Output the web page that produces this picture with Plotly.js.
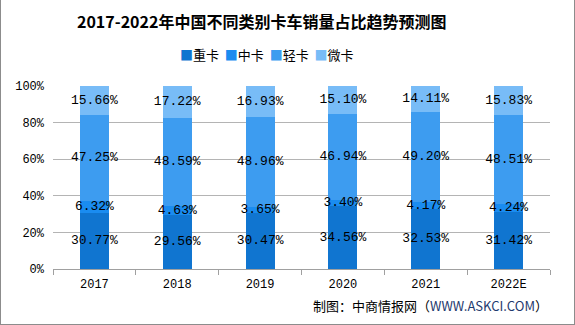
<!DOCTYPE html>
<html><head><meta charset="utf-8">
<script src="https://cdn.plot.ly/plotly-3.0.1.min.js"></script>
<style>html,body{margin:0;padding:0;background:#fff}#c{width:575px;height:325px;box-sizing:border-box;border:1px solid #8c8c8c;border-top:none}</style>
</head><body><div id="c"></div>
<script>
const years = ["2017","2018","2019","2020","2021","2022E"];
const heavy = [30.77,29.56,30.47,34.56,32.53,31.42];
const medium = [6.32,4.63,3.65,3.40,4.17,4.24];
const light = [47.25,48.59,48.96,46.94,49.20,48.51];
const micro = [15.66,17.22,16.93,15.10,14.11,15.83];
const names = ["重卡","中卡","轻卡","微卡"];
const colors = ["#1075d0","#1a8cf0","#3d9cf0","#78bcf7"];
const series = [heavy, medium, light, micro];
const mono = "'Liberation Mono', 'DejaVu Sans Mono', monospace";
const cjk = "'Noto Sans CJK SC', sans-serif";
const traces = series.map((s,i)=>({
  type:'bar', x:years, y:s, name:names[i],
  marker:{color:colors[i]}, hoverinfo:'none', showlegend:false
}));
// data labels at segment midpoints
const base = years.map(()=>0);
const lx=[], ly=[], lt=[];
series.forEach(s=>{
  s.forEach((v,j)=>{ lx.push(years[j]); ly.push(base[j]+v/2); lt.push(v.toFixed(2)+'%'); base[j]+=v; });
});
traces.push({type:'scatter', mode:'text', x:lx, y:ly, text:lt, textposition:'middle center',
  textfont:{family:mono,size:13,color:'#000'}, hoverinfo:'none', showlegend:false, cliponaxis:false});
const legendText = names.map((n,i)=>'<span style="color:'+colors[i]+'">■</span>'+n).join('  ');
const layout = {
  width:573, height:324, barmode:'stack', bargap:0.65,
  margin:{l:52,r:24,t:86,b:55},
  paper_bgcolor:'#fff', plot_bgcolor:'#fff',
  title:{text:'2017-2022年中国不同类别卡车销量占比趋势预测图', x:0.455, xanchor:'center', y:0.93, yanchor:'middle',
    font:{family:cjk, size:16, color:'#000', weight:'bold'}},
  xaxis:{type:'category', showgrid:false, showline:true, linecolor:'#a0a0a0', linewidth:1,
    ticks:'outside', tickcolor:'#a0a0a0', ticklen:5, tickson:'boundaries', ticklabelstandoff:4,
    tickfont:{family:mono,size:12,color:'#000'}, fixedrange:true},
  yaxis:{range:[0,100], dtick:20, ticksuffix:'%', showgrid:true, gridcolor:'#b4b4b4', zeroline:false,
    showline:false, ticklabelstandoff:8, tickfont:{family:mono,size:12,color:'#000'}, fixedrange:true},
  annotations:[
    {xref:'paper',yref:'paper',x:1.0,y:-0.2,xanchor:'right',yanchor:'middle',showarrow:false,
    text:'制图：中商情报网（<span style="color:#1f3a6e">WWW.ASKCI.COM</span>）',
    font:{family:cjk,size:13,color:'#000'}},
    {xref:'paper',yref:'paper',x:0.43,y:1.17,xanchor:'center',yanchor:'middle',showarrow:false,
    text:legendText, font:{family:cjk,size:13,color:'#000'}}
  ],
  showlegend:false
};
Plotly.newPlot('c', traces, layout, {displayModeBar:false, staticPlot:true});
</script></body></html>
